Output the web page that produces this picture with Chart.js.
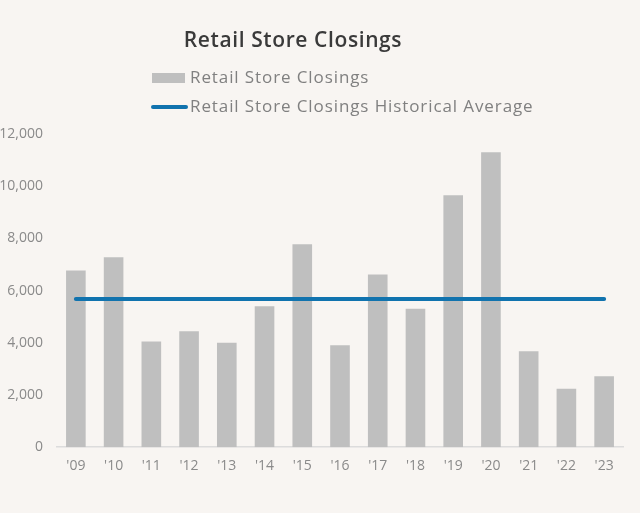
<!DOCTYPE html>
<html lang="en">
<head>
  <meta charset="UTF-8" />
  <title>Retail Store Closings</title>
  <script src="https://cdn.jsdelivr.net/npm/chart.js"></script>
  <style>
    html, body {
      margin: 0;
      padding: 0;
      background-color: #f8f5f2;
    }
    .wrap {
      width: 640px;
      height: 513px;
    }
  </style>
</head>
<body>
  <div class="wrap">
    <canvas id="closingsChart" width="640" height="513"></canvas>
  </div>

<script>
  // data
  const years = ["'09", "'10", "'11", "'12", "'13", "'14", "'15", "'16", "'17", "'18", "'19", "'20", "'21", "'22", "'23"];
  const storeClosings = [6770, 7280, 4050, 4440, 4000, 5400, 7780, 3910, 6620, 5300, 9650, 11300, 3680, 2240, 2720];
  const historicalAverage = [5680, 5680, 5680, 5680, 5680, 5680, 5680, 5680, 5680, 5680, 5680, 5680, 5680, 5680, 5680];
  const yTicks = [0, 2000, 4000, 6000, 8000, 10000, 12000];

  const FONT = "'Open Sans', 'DejaVu Sans', sans-serif";

  // title + stacked legend drawn on the canvas
  const headerPlugin = {
    id: 'header',
    afterDraw(chart) {
      const ctx = chart.ctx;
      ctx.save();
      ctx.fillStyle = '#3a3a3a';
      ctx.font = '600 21px ' + FONT;
      ctx.letterSpacing = '0.6px';
      ctx.textAlign = 'center';
      ctx.textBaseline = 'middle';
      ctx.fillText('Retail Store Closings', 293, 41);

      ctx.textAlign = 'left';
      ctx.font = '17px ' + FONT;
      ctx.letterSpacing = '0.9px';
      const rows = [78, 107];
      chart.data.datasets.forEach((ds, i) => {
        const y = rows[i];
        if (ds.type === 'line') {
          ctx.strokeStyle = ds.borderColor;
          ctx.lineWidth = 4;
          ctx.lineCap = 'round';
          ctx.beginPath();
          ctx.moveTo(153, y);
          ctx.lineTo(186, y);
          ctx.stroke();
        } else {
          ctx.fillStyle = ds.backgroundColor;
          ctx.fillRect(152, y - 5, 33, 10);
        }
        ctx.fillStyle = '#808080';
        ctx.fillText(ds.label, 190, y);
      });
      ctx.restore();
    }
  };

  new Chart(document.getElementById('closingsChart'), {
    data: {
      labels: years,
      datasets: [
        {
          type: 'bar',
          label: 'Retail Store Closings',
          data: storeClosings,
          backgroundColor: '#bfbfbf',
          categoryPercentage: 1,
          barPercentage: 0.52,
          order: 2
        },
        {
          type: 'line',
          label: 'Retail Store Closings Historical Average',
          data: historicalAverage,
          borderColor: '#1173ae',
          borderWidth: 4,
          borderCapStyle: 'round',
          pointRadius: 0,
          fill: false,
          order: 1
        }
      ]
    },
    options: {
      responsive: false,
      animation: false,
      layout: {
        padding: { top: 134, right: 17, bottom: 29, left: 0 }
      },
      plugins: {
        legend: { display: false },
        title: { display: false },
        tooltip: { enabled: false }
      },
      scales: {
        x: {
          grid: { display: false, drawTicks: false },
          border: { display: true, color: '#dcdcdc', width: 1.5 },
          ticks: {
            color: '#8a8a8a',
            font: { family: FONT, size: 14 },
            padding: 10,
            maxRotation: 0
          }
        },
        y: {
          min: 0,
          max: 12000,
          afterFit(scale) { scale.width = 57; },
          afterBuildTicks(scale) {
            scale.ticks = yTicks.map(v => ({ value: v }));
          },
          grid: { display: false, drawTicks: false },
          border: { display: false },
          ticks: {
            color: '#8a8a8a',
            font: { family: FONT, size: 14 },
            padding: 14,
            callback: v => v.toLocaleString('en-US')
          }
        }
      }
    },
    plugins: [headerPlugin]
  });
</script>
</body>
</html>
